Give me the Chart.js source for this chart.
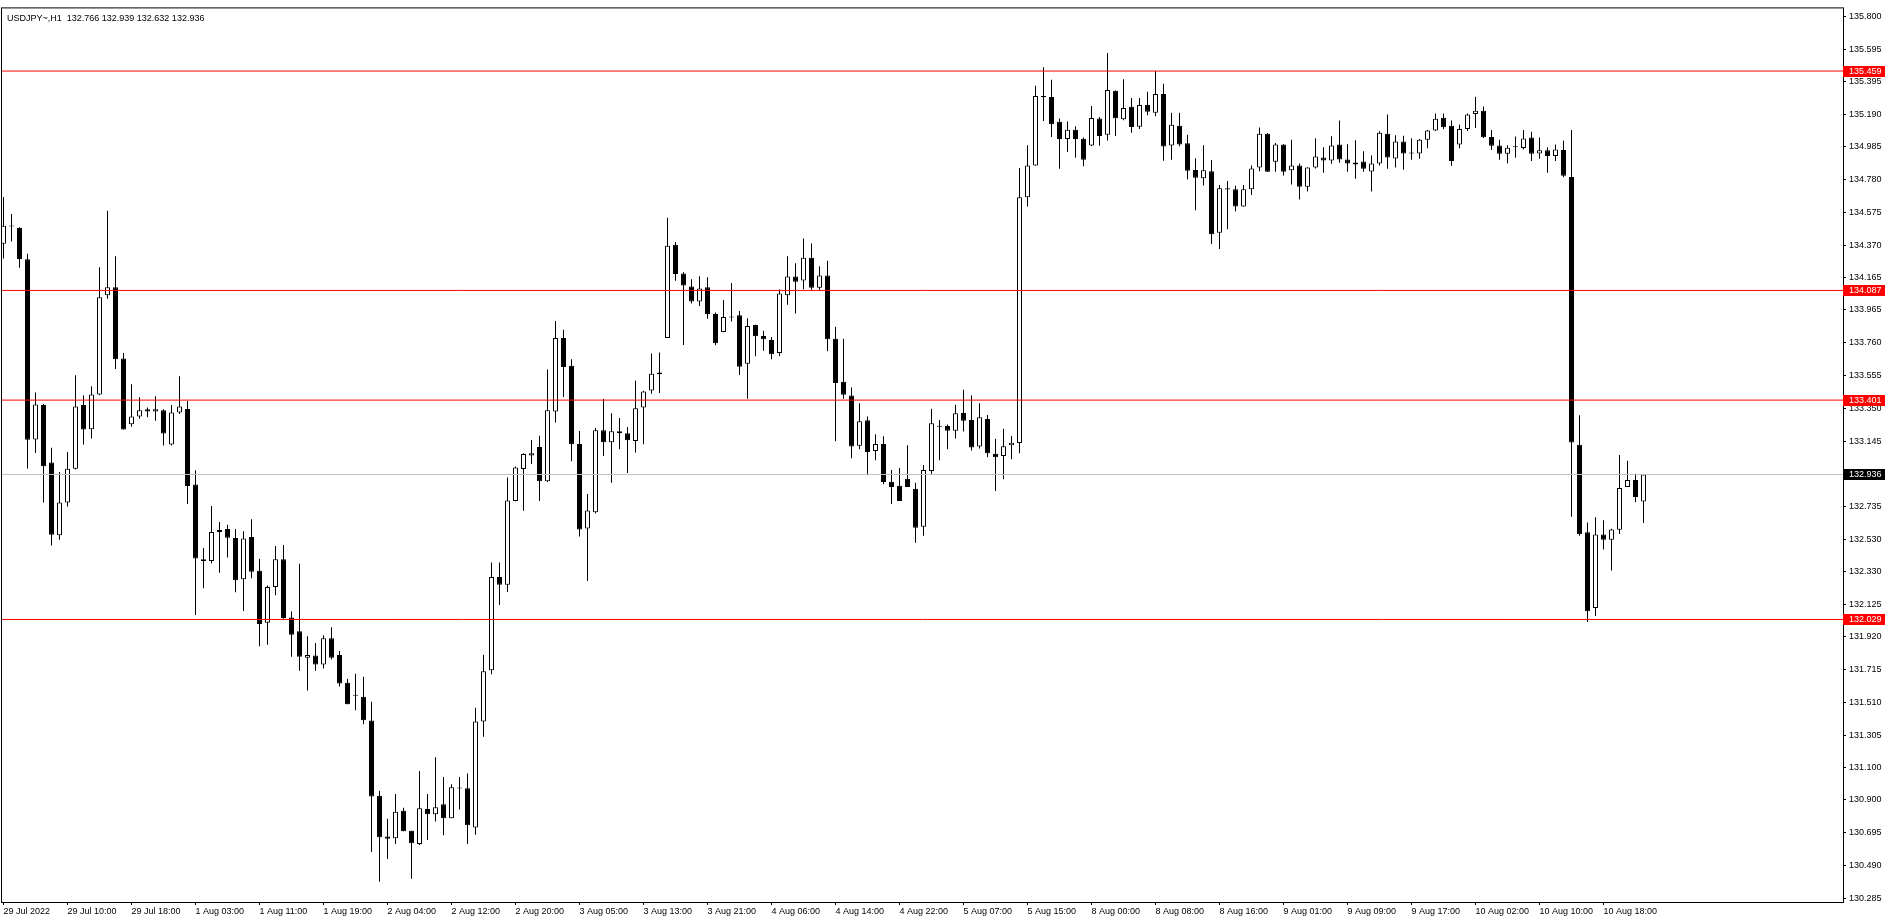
<!DOCTYPE html>
<html>
<head>
<meta charset="utf-8">
<script src="https://cdn.jsdelivr.net/npm/chart.js@4.4.0/dist/chart.umd.min.js"></script>
<style>
  html, body { margin: 0; padding: 0; background: #fff; }
  #wrap { width: 1888px; height: 923px; }
</style>
</head>
<body>
<div id="wrap"><canvas id="chart" width="1888" height="923"></canvas></div>
<script>
// USDJPY~ H1 candles
const symbolTitle = 'USDJPY~,H1  132.766 132.939 132.632 132.936';

const opens = [
  134.379,134.486,134.478,134.282,133.155,133.370,133.010,132.555,132.760,132.971,
  133.370,133.219,133.436,134.056,134.106,133.661,133.250,133.299,133.343,133.330,
  133.337,133.124,133.324,133.345,132.873,132.406,132.394,132.576,132.594,132.538,
  132.280,132.545,132.334,132.009,132.232,132.406,132.042,131.955,131.790,131.804,
  131.747,131.912,131.806,131.633,131.556,131.546,131.397,130.926,130.671,130.661,
  130.833,130.708,130.624,130.843,130.810,130.874,130.785,130.975,130.973,130.728,
  131.391,131.712,132.294,132.246,132.770,132.970,133.054,133.107,132.894,133.330,
  133.790,133.616,133.127,132.598,132.700,133.213,133.137,133.206,133.193,133.145,
  133.355,133.461,133.573,133.790,134.372,134.193,134.112,134.018,134.107,133.940,
  133.827,133.922,133.932,133.628,133.870,133.802,133.777,133.696,134.056,134.174,
  134.149,134.292,134.104,134.180,133.785,133.516,133.430,133.115,133.275,133.082,
  133.126,132.890,132.865,132.909,132.846,132.609,132.958,133.239,133.239,133.210,
  133.320,133.277,133.111,133.283,133.066,133.051,133.119,133.132,134.670,134.869,
  135.303,135.297,135.142,135.034,135.092,135.036,134.993,135.162,135.061,135.336,
  135.158,135.235,135.111,135.247,135.198,135.315,134.993,135.117,135.007,134.840,
  134.788,134.832,134.447,134.726,134.720,134.612,134.720,134.856,135.067,134.891,
  134.999,134.838,134.869,134.736,134.856,134.918,134.900,134.999,134.906,134.875,
  134.894,134.831,134.881,135.067,134.912,135.018,134.947,134.943,135.030,135.087,
  135.167,135.117,134.999,135.097,135.191,135.211,135.047,134.993,134.941,134.986,
  134.978,135.043,134.943,134.963,134.928,134.965,134.797,133.121,132.575,132.100,
  132.560,132.527,132.590,132.858,132.901,132.766
];
const highs = [
  134.672,134.565,134.482,134.317,133.448,133.376,133.103,132.952,133.076,133.556,
  133.432,133.488,134.232,134.585,134.300,133.696,133.500,133.419,133.355,133.425,
  133.343,133.370,133.550,133.396,132.962,132.476,132.739,132.638,132.621,132.594,
  132.580,132.656,132.408,132.241,132.489,132.495,132.079,132.377,131.924,131.881,
  131.931,131.980,131.831,131.658,131.689,131.670,131.515,130.957,130.783,130.938,
  130.851,130.708,131.081,130.938,131.168,131.044,130.998,131.044,131.066,131.477,
  131.808,132.385,132.385,132.917,132.985,133.069,133.152,133.178,133.593,133.896,
  133.841,133.656,133.208,132.813,133.226,133.408,133.319,133.289,133.233,133.524,
  133.460,133.692,133.699,134.542,134.390,134.200,134.157,134.175,134.170,133.949,
  134.027,134.133,133.959,133.913,133.872,133.835,133.796,134.093,134.300,134.257,
  134.412,134.381,134.238,134.273,133.860,133.785,133.479,133.382,133.299,133.188,
  133.175,132.964,132.977,133.119,132.884,132.995,133.347,133.277,133.248,133.372,
  133.465,133.432,133.382,133.308,133.159,133.221,133.177,134.852,134.995,135.367,
  135.483,135.404,135.162,135.144,135.113,135.044,135.241,135.171,135.572,135.338,
  135.408,135.291,135.291,135.330,135.460,135.379,135.198,135.198,135.061,134.914,
  134.995,134.902,134.747,134.772,134.741,134.747,134.869,135.106,135.071,135.009,
  135.001,135.030,134.881,134.858,135.038,134.982,135.051,135.150,135.001,135.026,
  134.958,134.931,135.082,135.187,135.057,135.055,135.038,135.034,135.091,135.193,
  135.193,135.150,135.124,135.193,135.298,135.237,135.091,135.030,134.995,135.050,
  135.091,135.080,135.043,134.982,135.000,135.024,135.091,133.306,132.636,132.669,
  132.649,132.597,133.058,133.021,132.941,132.939
];
const lows = [
  134.286,134.393,134.228,132.973,133.070,132.760,132.491,132.528,132.735,132.967,
  133.124,133.161,133.432,134.035,133.595,133.217,133.235,133.285,133.293,133.272,
  133.117,133.117,133.314,132.751,132.057,132.224,132.379,132.321,132.416,132.199,
  132.082,132.286,131.862,131.871,132.181,132.034,131.796,131.709,131.585,131.709,
  131.722,131.778,131.610,131.498,131.461,131.374,130.574,130.388,130.531,130.624,
  130.704,130.407,130.618,130.649,130.766,130.680,130.785,130.841,130.624,130.682,
  131.295,131.687,132.120,132.201,132.768,132.709,133.001,132.770,132.889,133.261,
  133.421,133.018,132.548,132.269,132.692,133.051,132.884,133.094,132.945,133.074,
  133.125,133.441,133.446,133.790,134.147,133.745,134.005,133.990,133.909,133.744,
  133.825,133.893,133.558,133.409,133.676,133.709,133.657,133.676,133.998,133.942,
  134.095,134.091,134.091,133.707,133.144,133.409,133.037,133.093,132.931,133.024,
  132.875,132.751,132.770,132.857,132.509,132.553,132.937,133.024,133.093,133.161,
  133.204,133.086,133.099,133.043,132.832,132.906,133.031,133.068,134.612,134.866,
  135.146,135.047,134.848,134.953,134.916,134.863,134.990,134.991,135.024,135.053,
  135.152,135.073,135.096,135.183,135.177,134.898,134.904,134.989,134.780,134.588,
  134.743,134.377,134.346,134.470,134.581,134.610,134.683,134.832,134.827,134.829,
  134.805,134.749,134.656,134.705,134.850,134.823,134.879,134.885,134.829,134.786,
  134.829,134.705,134.869,134.848,134.856,134.842,134.904,134.910,134.976,135.084,
  135.095,134.867,134.976,135.084,135.102,135.041,134.965,134.904,134.880,134.917,
  134.969,134.897,134.910,134.823,134.897,134.795,132.671,132.553,132.013,132.050,
  132.466,132.336,132.564,132.858,132.762,132.632
];
const closes = [
  134.492,134.490,134.284,133.153,133.374,132.987,132.559,132.760,132.971,133.361,
  133.217,133.436,134.044,134.106,133.657,133.217,133.299,133.337,133.330,133.343,
  133.192,133.324,133.361,132.863,132.410,132.394,132.576,132.588,132.540,132.274,
  132.536,132.328,132.001,132.232,132.406,132.038,131.933,131.796,131.806,131.747,
  131.912,131.790,131.629,131.498,131.552,131.399,130.921,130.667,130.657,130.826,
  130.704,130.630,130.849,130.810,130.855,130.785,130.979,130.971,130.742,131.391,
  131.705,132.294,132.246,132.773,132.980,133.064,133.069,132.894,133.337,133.790,
  133.608,133.125,132.591,132.710,133.213,133.137,133.206,133.193,133.150,133.350,
  133.454,133.565,133.562,134.367,134.190,134.117,134.018,134.099,133.939,133.756,
  133.920,133.918,133.610,133.864,133.800,133.781,133.688,134.068,134.174,134.141,
  134.292,134.104,134.180,133.781,133.508,133.434,133.111,133.268,133.076,133.126,
  132.888,132.857,132.770,132.857,132.602,132.964,133.256,133.235,133.210,133.318,
  133.272,133.105,133.293,133.068,133.043,133.113,133.134,134.670,134.869,135.303,
  135.295,135.127,135.034,135.092,135.034,134.904,135.166,135.053,135.340,135.164,
  135.228,135.109,135.247,135.204,135.315,134.987,135.123,134.999,134.836,134.792,
  134.838,134.439,134.726,134.718,134.612,134.720,134.850,135.067,134.829,134.999,
  134.829,134.869,134.736,134.856,134.924,134.900,134.993,134.906,134.881,134.887,
  134.848,134.881,135.073,134.918,135.018,134.943,134.943,135.030,135.087,135.161,
  135.108,134.897,135.097,135.187,135.211,135.045,134.991,134.941,134.980,134.982,
  135.037,134.941,134.963,134.928,134.969,134.804,133.136,132.562,132.081,132.560,
  132.527,132.592,132.851,132.901,132.795,132.936
];

// one label every 8 bars
const timeLabels = [
  '29 Jul 2022','29 Jul 10:00','29 Jul 18:00','1 Aug 03:00','1 Aug 11:00','1 Aug 19:00',
  '2 Aug 04:00','2 Aug 12:00','2 Aug 20:00','3 Aug 05:00','3 Aug 13:00','3 Aug 21:00',
  '4 Aug 06:00','4 Aug 14:00','4 Aug 22:00','5 Aug 07:00','5 Aug 15:00','8 Aug 00:00',
  '8 Aug 08:00','8 Aug 16:00','9 Aug 01:00','9 Aug 09:00','9 Aug 17:00','10 Aug 02:00',
  '10 Aug 10:00','10 Aug 18:00'
];
const labelStep = 8;

const priceTicks = [
  135.800,135.595,135.395,135.190,134.985,134.780,134.575,134.370,134.165,133.965,
  133.760,133.555,133.350,133.145,132.735,132.530,132.330,132.125,131.920,131.715,
  131.510,131.305,131.100,130.900,130.695,130.490,130.285
];

const redLevels = [135.459, 134.087, 133.401, 132.029];
const lastPrice = 132.936;

// visible window (bars / price)
const xMin = -0.1875, xMax = 229.9375;
const yMin = 130.2619, yMax = 135.8508;

const FONT = '"Liberation Sans", Arial, sans-serif';

const wickData = opens.map((o, i) => ({ x: i, y: [lows[i], highs[i]] }));
const bodyData = opens.map((o, i) => ({ x: i, y: [o, closes[i]] }));
const bodyColors = opens.map((o, i) => closes[i] >= o ? '#ffffff' : '#000000');

const levelSets = redLevels.map(v => ({
  type: 'line',
  data: [{ x: xMin, y: v }, { x: xMax, y: v }],
  borderColor: '#ff0000',
  borderWidth: 1,
  pointRadius: 0,
  order: 0
}));

const chartFrame = {
  id: 'chartFrame',
  afterDraw(chart) {
    const { ctx, chartArea: a, scales: { y } } = chart;
    ctx.save();
    ctx.strokeStyle = '#000';
    ctx.lineWidth = 1;
    ctx.strokeRect(a.left - 0.5, a.top - 0.5, a.right - a.left + 1, a.bottom - a.top + 1);

    ctx.font = '9px ' + FONT;
    ctx.textBaseline = 'middle';
    ctx.fillStyle = '#000';
    ctx.fillText(symbolTitle, a.left + 5, a.top + 10);

    const boxes = redLevels.map(v => [v, '#ff0000']).concat([[lastPrice, '#000000']]);
    boxes.forEach(([v, c]) => {
      const py = Math.round(y.getPixelForValue(v));
      ctx.fillStyle = c;
      ctx.fillRect(a.right, py - 5, 42, 11);
      ctx.fillStyle = '#fff';
      ctx.fillText(v.toFixed(3), a.right + 6, py + 0.5);
    });
    ctx.restore();
  }
};

new Chart(document.getElementById('chart'), {
  type: 'bar',
  data: {
    datasets: [
      ...levelSets,
      {
        type: 'line',
        data: [{ x: xMin, y: lastPrice }, { x: xMax, y: lastPrice }],
        borderColor: '#c0c0c0',
        borderWidth: 1,
        pointRadius: 0,
        order: 1
      },
      {
        data: bodyData,
        backgroundColor: bodyColors,
        borderColor: '#000',
        borderWidth: 1,
        borderSkipped: false,
        barThickness: 5,
        minBarLength: 1,
        inflateAmount: 0,
        grouped: false,
        order: 2
      },
      {
        data: wickData,
        backgroundColor: '#000',
        borderWidth: 0,
        barThickness: 1,
        minBarLength: 1,
        inflateAmount: 0,
        grouped: false,
        order: 3
      }
    ]
  },
  options: {
    responsive: false,
    devicePixelRatio: 1,
    animation: false,
    layout: { padding: { left: 2, top: 1, right: 0, bottom: 0 } },
    plugins: {
      legend: { display: false },
      tooltip: { enabled: false }
    },
    scales: {
      x: {
        type: 'linear',
        position: 'bottom',
        offset: false,
        min: xMin,
        max: xMax,
        afterBuildTicks(s) { s.ticks = timeLabels.map((_, k) => ({ value: k * labelStep })); },
        afterFit(s) { s.height = 21; },
        grid: { drawOnChartArea: false, offset: false, tickLength: 3, color: '#000' },
        border: { color: '#000' },
        ticks: {
          autoSkip: false,
          maxRotation: 0,
          align: 'start',
          padding: 1,
          color: '#000',
          font: { family: FONT, size: 9 },
          callback: v => timeLabels[Math.round(v / labelStep)] || ''
        }
      },
      y: {
        type: 'linear',
        position: 'right',
        min: yMin,
        max: yMax,
        afterBuildTicks(s) { s.ticks = priceTicks.map(v => ({ value: v })); },
        afterFit(s) { s.width = 45; },
        grid: { drawOnChartArea: false, tickLength: 3, color: '#000' },
        border: { color: '#000' },
        ticks: {
          autoSkip: false,
          padding: 3,
          color: '#000',
          font: { family: FONT, size: 9 },
          callback: v => v.toFixed(3)
        }
      }
    }
  },
  plugins: [chartFrame]
});
</script>
</body>
</html>
